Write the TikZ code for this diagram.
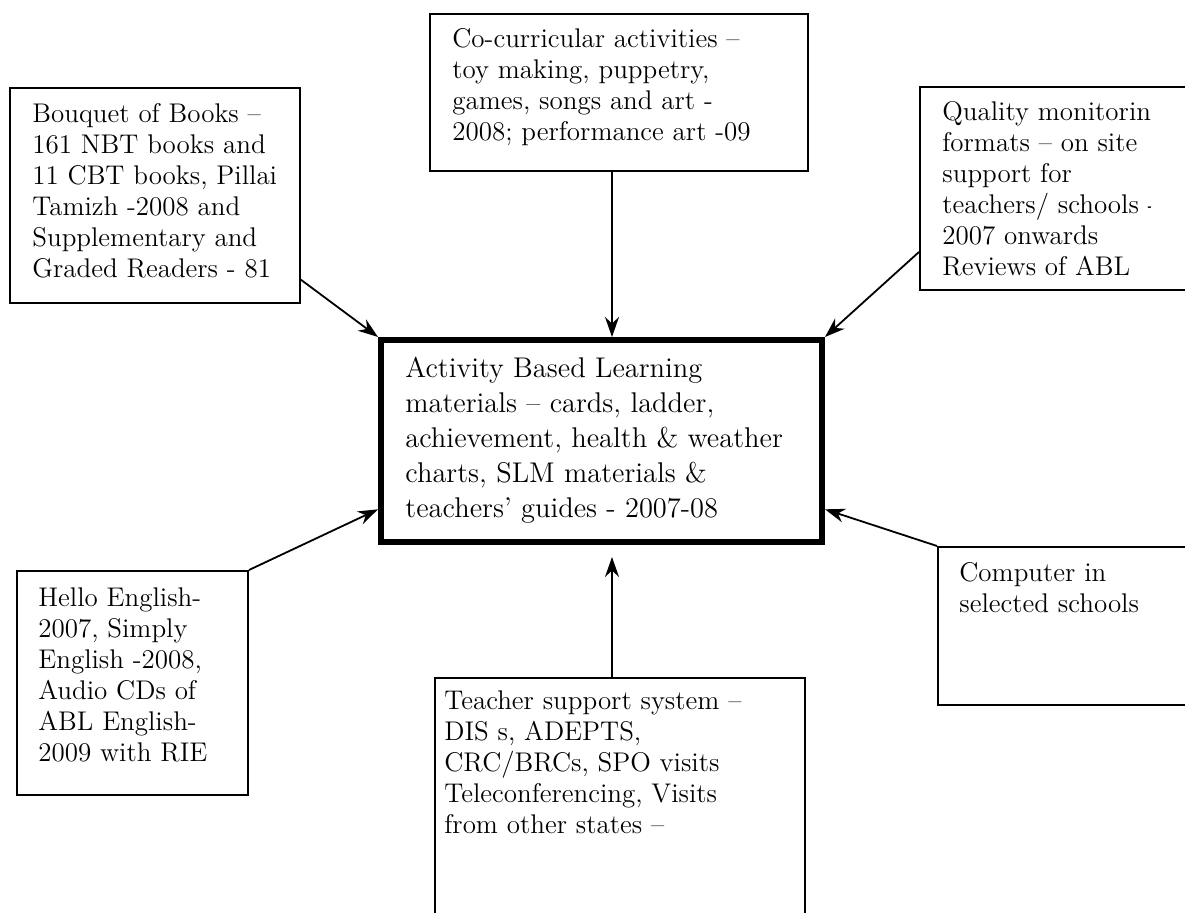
\documentclass[tikz,border=0pt]{standalone}
\usepackage{tikz}
\usetikzlibrary{arrows.meta}

\begin{document}
\begin{tikzpicture}[x=0.5pt,y=-0.5pt]
				\useasboundingbox (0,0) rectangle (1185,913);
				\clip (0,0) rectangle (1185,913);
				\begin{scope}[every node/.style={rectangle,draw,line width=1pt,inner sep=0pt}]
					\node[minimum width=145pt,minimum height=107.5pt] (BOB) at (155,195.5) {};
					\node[minimum width=189pt,minimum height=78.5pt] (CCA) at (619,92.5) {};
					\node[minimum width=140pt,minimum height=101.5pt] (QM) at (1060,188.5) {};
					\node[line width=3pt,minimum width=220.5pt,minimum height=101pt] (ABL) at (601.5,441) {};
					\node[minimum width=115.5pt,minimum height=112pt] (HE) at (132.5,683) {};
					\node[minimum width=131pt,minimum height=79pt] (CS) at (1069,626) {};
					\node[minimum width=185pt,minimum height=128.5pt] (TSS) at (620,806.5) {};
				\end{scope}
				
				% text sits on the baseline of its last line
				\begin{scope}[every node/.style={anchor=base west,align=left,inner sep=0pt,
						font=\fontsize{13.5}{15.5}\selectfont}]
					\node (BOBt) at (32,278) {Bouquet of Books –\\161 NBT books and\\11 CBT books, Pillai\\Tamizh -2008 and\\Supplementary and\\Graded Readers - 81};
					\node (CCAt) at (452,141) {Co-curricular activities –\\toy making, puppetry,\\games, songs and art -\\2008; performance art -09};
					\begin{scope}
						\clip (0,0) rectangle (1150,913);
						\node (QMt) at (942,276) {Quality monitoring\\formats – on site\\support for\\teachers/ schools -\\2007 onwards\\Reviews of ABL};
					\end{scope}
					\node[font=\fontsize{14.25}{17.5}\selectfont] (ABLt) at (405,518) {Activity Based Learning\\materials – cards, ladder,\\achievement, health \& weather\\charts, SLM materials \&\\teachers' guides - 2007-08};
					\node (HEt) at (38,762) {Hello English-\\2007, Simply\\English -2008,\\Audio CDs of\\ABL English-\\2009 with RIE};
					\node (CSt) at (959,613) {Computer in\\selected schools};
					\node (TSSt) at (444,834) {Teacher support system –\\DIS s, ADEPTS,\\CRC/BRCs, SPO visits\\Teleconferencing, Visits\\from other states –};
				\end{scope}
				
				\begin{scope}[>={Stealth[length=10pt,width=7pt]},
					every edge/.style={draw,line width=0.9pt}]
					\coordinate (X) at (612,0);
					\path [->] (BOB.-30) edge (ABL.north west);%books%
					\path [->] (CCA.south -| X) edge (ABL.north -| X);%co-curricular%
					\path [->] ([yshift=-31.75pt]QM.west) edge (ABL.north east);%monitoring%
					\path [->] (HE.north east) edge (ABL.197);%english%
					\path [->] (CS.north west) edge (ABL.-17);%computer%
					\path [->] (TSS.north -| X) edge [shorten >=6pt] (ABL.south -| X);%support%
				\end{scope}
			\end{tikzpicture}
\end{document}
